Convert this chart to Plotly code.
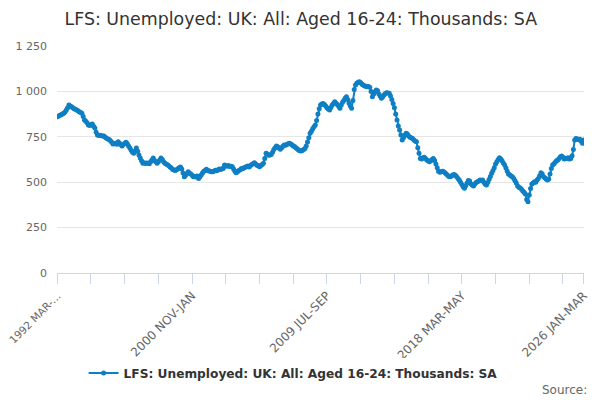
import plotly.graph_objects as go

# Rolling three-month periods, Mar-May 1992 to Jan-Mar 2026
months = ['JAN', 'FEB', 'MAR', 'APR', 'MAY', 'JUN', 'JUL', 'AUG', 'SEP', 'OCT', 'NOV', 'DEC']
start_year = 1992
start_month = 2  # MAR

# Unemployed aged 16-24, thousands, one row per year starting MAR-MAY
values_by_year = [
    [861, 864, 868, 872, 875, 880, 886, 897, 910, 925, 920, 915],      # 1992
    [910, 905, 902, 898, 893, 888, 884, 880, 862, 843, 835, 828],      # 1993
    [815, 812, 818, 820, 808, 798, 775, 760, 757, 759, 756, 755],      # 1994
    [754, 748, 742, 738, 735, 728, 720, 710, 712, 715, 709, 723],      # 1995
    [715, 706, 700, 708, 714, 720, 712, 700, 688, 676, 665, 660],      # 1996
    [672, 688, 670, 650, 633, 618, 605, 607, 603, 606, 605, 601],      # 1997
    [612, 622, 633, 620, 612, 605, 612, 622, 633, 625, 613, 605],      # 1998
    [600, 596, 590, 584, 578, 570, 567, 565, 568, 574, 580, 584],      # 1999
    [572, 550, 530, 538, 548, 558, 549, 545, 538, 530, 532, 528],      # 2000
    [534, 521, 530, 540, 550, 560, 565, 571, 566, 562, 560, 558],      # 2001
    [558, 562, 566, 563, 568, 572, 570, 574, 576, 595, 590, 588],      # 2002
    [592, 586, 588, 585, 572, 560, 552, 558, 565, 568, 576, 574],      # 2003
    [580, 583, 586, 589, 584, 592, 598, 602, 607, 600, 594, 590],      # 2004
    [585, 592, 598, 604, 630, 659, 655, 648, 650, 652, 665, 680],      # 2005
    [690, 699, 695, 688, 681, 690, 698, 705, 703, 708, 712, 714],      # 2006
    [710, 706, 700, 696, 690, 684, 678, 673, 672, 675, 680, 686],      # 2007
    [700, 722, 745, 769, 780, 795, 805, 815, 840, 875, 905, 925],      # 2008
    [930, 934, 928, 920, 910, 903, 898, 912, 925, 934, 943, 935],      # 2009
    [928, 918, 907, 925, 940, 950, 962, 971, 955, 935, 920, 907],      # 2010
    [950, 1010, 1035, 1045, 1050, 1053, 1048, 1040, 1035, 1030, 1028, 1025],  # 2011
    [1027, 1023, 1000, 971, 985, 998, 1008, 1003, 985, 975, 962, 970], # 2012
    [980, 988, 993, 991, 990, 975, 955, 934, 910, 875, 843, 810],      # 2013
    [787, 760, 732, 745, 758, 769, 765, 755, 747, 745, 740, 733],      # 2014
    [727, 723, 690, 660, 631, 628, 634, 638, 631, 622, 618, 613],      # 2015
    [618, 625, 631, 620, 600, 580, 560, 555, 558, 560, 558, 552],      # 2016
    [545, 538, 532, 530, 534, 540, 542, 538, 530, 520, 512, 500],      # 2017
    [488, 475, 466, 480, 495, 510, 506, 492, 485, 479, 490, 498],      # 2018
    [503, 507, 512, 510, 512, 500, 490, 485, 498, 515, 532, 549],      # 2019
    [565, 580, 600, 613, 625, 635, 628, 618, 606, 595, 578, 560],      # 2020
    [545, 540, 534, 530, 520, 508, 495, 479, 472, 468, 461, 452],      # 2021
    [445, 435, 405, 393, 430, 465, 490, 495, 503, 500, 512, 521],      # 2022
    [535, 552, 545, 530, 525, 518, 512, 518, 545, 575, 595, 602],      # 2023
    [610, 618, 622, 630, 640, 644, 638, 628, 632, 631, 635, 628],      # 2024
    [631, 645, 680, 732, 740, 738, 734, 736, 726, 714, 732],           # 2025
]
values = [v for row in values_by_year for v in row]

periods = []
for i in range(len(values)):
    m = start_month + i
    y = start_year + m // 12
    periods.append(f"{y} {months[m % 12]}-{months[(m + 2) % 12]}")
x_idx = list(range(len(values)))
last = len(values) - 1

# x-axis ticks: every 26 periods, labelled every 104, plus the last period
tick_idx = list(range(0, last, 26)) + [last]
first_label = '<span style="font-size:10.5px">1992 MAR-…</span>'
tick_text = [first_label if i == 0 else (periods[i] if i % 104 == 0 or i == last else '')
             for i in tick_idx]

y_ticks = [0, 250, 500, 750, 1000, 1250]
y_text = ['0', '250', '500', '750', '1 000', '1 250']

series_name = 'LFS: Unemployed: UK: All: Aged 16-24: Thousands: SA'
blue = '#0f7fc4'

fig = go.Figure()
fig.add_trace(go.Scatter(
    x=x_idx, y=values, mode='lines+markers', name=series_name,
    customdata=periods, hovertemplate='%{customdata}: %{y}<extra></extra>',
    line=dict(color=blue, width=2),
    marker=dict(color=blue, size=5),
))

# page body adds an 8px offset, so margins are shifted to compensate
fig.update_layout(
    width=600, height=400,
    margin=dict(l=49, r=24, t=38, b=135, autoexpand=False),
    paper_bgcolor='white', plot_bgcolor='white',
    font=dict(family='DejaVu Sans', color='#666666', size=12),
    title=dict(text=series_name, x=0.488, xref='container', xanchor='center',
               y=0.9725, yref='container', yanchor='middle',
               font=dict(size=17.4, color='#333333')),
    showlegend=True,
    legend=dict(orientation='h', x=0.448, xanchor='center',
                y=-0.44, yanchor='middle', itemwidth=30,
                font=dict(size=12.2, color='#333333', weight='bold')),
    annotations=[dict(text='Source:', xref='paper', yref='paper', x=1.0095, y=-0.515,
                      xanchor='right', yanchor='middle', showarrow=False,
                      font=dict(size=12, color='#666666'))],
)

fig.update_xaxes(
    tickmode='array', tickvals=tick_idx, ticktext=tick_text,
    tickangle=-45, ticks='outside', ticklen=10, tickcolor='#ccd6eb',
    showline=True, linecolor='#ccd6eb', showgrid=False, zeroline=False,
    range=[-0.2, last + 0.2], automargin=False, ticklabeloverflow='allow',
    tickfont=dict(size=12, color='#666666'),
)
fig.update_yaxes(
    range=[0, 1250], tickmode='array', tickvals=y_ticks, ticktext=y_text,
    showgrid=True, gridcolor='#e6e6e6', zeroline=False, showline=False,
    tickfont=dict(size=11, color='#666666'), ticks='', automargin=False,
    ticklabelstandoff=9,
)

fig.write_html("out.html")
